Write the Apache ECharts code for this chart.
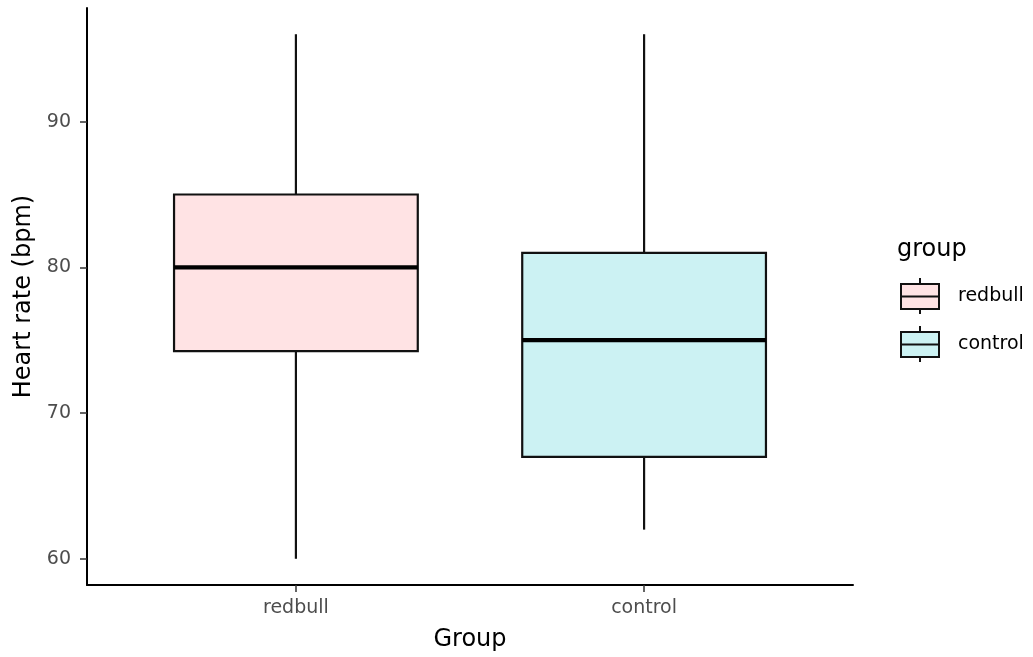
<!DOCTYPE html>
<html>
<head>
<meta charset="utf-8">
<script src="https://cdn.jsdelivr.net/npm/echarts@6/dist/echarts.min.js"></script>
<style>
  html, body { margin: 0; padding: 0; background: #fff; }
  #chart { width: 1033px; height: 657px; }
</style>
</head>
<body>
<div id="chart"></div>
<script>
// Groups and their box statistics: [position, lower whisker, Q1, median, Q3, upper whisker]
const groups = ['redbull', 'control'];
const redbullStats = [1, 60, 74.25, 80, 85, 96];
const controlStats = [2, 62, 67, 75, 81, 96];
const fills = ['#FFE3E4', '#CCF2F3'];
const yTicks = [60, 70, 80, 90];
const xTicks = [1, 2];

const FONT = 'DejaVu Sans';
const LINE = '#111';
const BOX_WIDTH = 0.7; // in x-axis units

function renderBox(params, api) {
  const x = api.value(0);
  const lo = api.coord([x, api.value(1)]);
  const q1 = api.coord([x, api.value(2)]);
  const med = api.coord([x, api.value(3)]);
  const q3 = api.coord([x, api.value(4)]);
  const hi = api.coord([x, api.value(5)]);
  const half = api.size([BOX_WIDTH, 0])[0] / 2;
  const cx = q1[0];
  const fill = fills[params.seriesIndex];
  return {
    type: 'group',
    children: [
      { type: 'line', shape: { x1: cx, y1: lo[1], x2: cx, y2: q1[1] }, style: { stroke: LINE, lineWidth: 2.2 } },
      { type: 'line', shape: { x1: cx, y1: q3[1], x2: cx, y2: hi[1] }, style: { stroke: LINE, lineWidth: 2.2 } },
      { type: 'rect', shape: { x: cx - half, y: q3[1], width: half * 2, height: q1[1] - q3[1] },
        style: { fill: fill, stroke: LINE, lineWidth: 2.2 } },
      { type: 'line', shape: { x1: cx - half, y1: med[1], x2: cx + half, y2: med[1] },
        style: { stroke: '#000', lineWidth: 4.2 } }
    ]
  };
}

// Legend key: box with median line and short whiskers
const keyIcon = 'path://M0,6 L38,6 L38,31 L0,31 Z M0,18.5 L38,18.5 M19,0 L19,6 M19,31 L19,36';

const chart = echarts.init(document.getElementById('chart'), null, { renderer: 'canvas' });
chart.setOption({
  animation: false,
  backgroundColor: '#fff',
  title: {
    text: 'group',
    left: 892,
    top: 233,
    textStyle: { fontFamily: FONT, fontSize: 24, fontWeight: 'normal', color: '#000' }
  },
  legend: {
    orient: 'vertical',
    left: 900,
    top: 277,
    padding: 0,
    itemWidth: 38,
    itemHeight: 36,
    itemGap: 10,
    textStyle: { fontFamily: FONT, fontSize: 19, color: '#000', padding: [0, 0, 0, 14] },
    data: groups.map((g, i) => ({
      name: g,
      icon: keyIcon,
      itemStyle: { color: fills[i], borderColor: LINE, borderWidth: 2 }
    }))
  },
  grid: { left: 87, right: 180, top: 8, bottom: 71, containLabel: false },
  xAxis: {
    type: 'value',
    min: 0.4,
    max: 2.6,
    name: 'Group',
    nameLocation: 'middle',
    nameGap: 43,
    nameTextStyle: { fontFamily: FONT, fontSize: 24, color: '#000', verticalAlign: 'top' },
    splitLine: { show: false },
    axisLine: { show: true, lineStyle: { color: '#000', width: 2 } },
    axisTick: { show: true, length: 7, customValues: xTicks, lineStyle: { color: '#333', width: 1.5 } },
    axisLabel: {
      customValues: xTicks,
      margin: 14,
      fontFamily: FONT,
      fontSize: 19,
      color: '#4D4D4D',
      formatter: v => groups[Math.round(v) - 1]
    }
  },
  yAxis: {
    type: 'value',
    min: 58.2,
    max: 97.8,
    name: 'Heart rate (bpm)',
    nameLocation: 'middle',
    nameGap: 44,
    nameTextStyle: { fontFamily: FONT, fontSize: 24, color: '#000' },
    splitLine: { show: false },
    axisLine: { show: true, lineStyle: { color: '#000', width: 2 } },
    axisTick: { show: true, length: 7, customValues: yTicks, lineStyle: { color: '#333', width: 1.5 } },
    axisLabel: {
      customValues: yTicks,
      margin: 16,
      fontFamily: FONT,
      fontSize: 19,
      color: '#4D4D4D'
    }
  },
  series: [
    { name: groups[0], type: 'custom', renderItem: renderBox, encode: { x: 0, y: [1, 5] },
      itemStyle: { color: fills[0] }, data: [redbullStats] },
    { name: groups[1], type: 'custom', renderItem: renderBox, encode: { x: 0, y: [1, 5] },
      itemStyle: { color: fills[1] }, data: [controlStats] }
  ]
});
</script>
</body>
</html>
